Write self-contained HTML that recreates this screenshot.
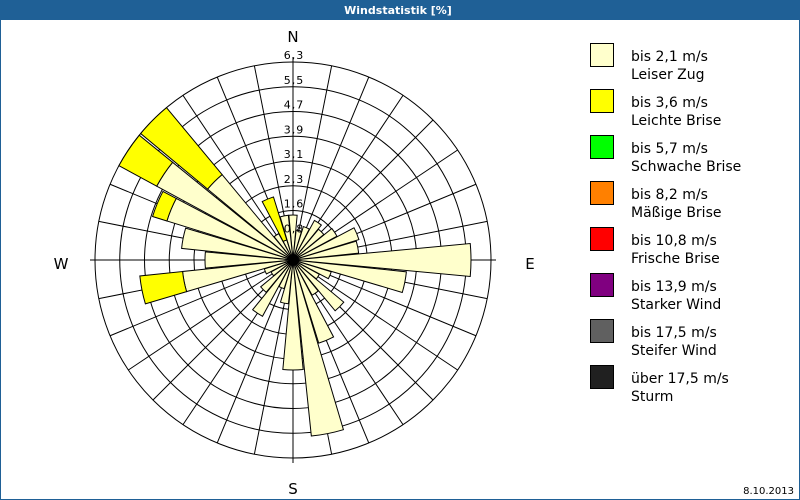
<!DOCTYPE html>
<html><head><meta charset="utf-8"><style>
body{margin:0;background:#fff}
#c{position:relative;width:800px;height:500px;overflow:hidden;font-family:"Liberation Sans","DejaVu Sans",sans-serif}
</style></head><body><div id="c">
<svg id="s" width="800" height="500" xmlns="http://www.w3.org/2000/svg">
<rect x="0" y="0" width="800" height="500" fill="#fff"/>
<rect x="0.5" y="0.5" width="799" height="499" fill="none" stroke="#1f6096"/>
<rect x="0" y="0" width="800" height="20" fill="#1f6096"/>
<text x="398" y="14" fill="#fff" font-size="11" font-weight="bold" text-anchor="middle" font-family="DejaVu Sans, sans-serif">Windstatistik [%]</text>
<g id="g"></g>
<text x="293" y="42" font-size="15" text-anchor="middle" font-family="DejaVu Sans, sans-serif">N</text>
<text x="293" y="494" font-size="15" text-anchor="middle" font-family="DejaVu Sans, sans-serif">S</text>
<text x="61" y="269" font-size="15" text-anchor="middle" font-family="DejaVu Sans, sans-serif">W</text>
<text x="530" y="269" font-size="15" text-anchor="middle" font-family="DejaVu Sans, sans-serif">E</text>
<g id="lg" font-size="14" font-family="DejaVu Sans, sans-serif"></g>
<text x="794" y="494" font-size="10" text-anchor="end" font-family="DejaVu Sans, sans-serif">8.10.2013</text>
</svg></div>
<script>
var cx=293,cy=260,R=198,g=document.getElementById('g'),h='';
function pt(a,r){var t=a*Math.PI/180;return [cx+r*Math.sin(t),cy-r*Math.cos(t)];}
for(var i=1;i<=8;i++)h+='<circle cx="'+cx+'" cy="'+cy+'" r="'+(R*i/8)+'" fill="none" stroke="#000" stroke-width="1"/>';
for(var k=0;k<32;k++){var p=pt(k*11.25,R);h+='<line x1="'+cx+'" y1="'+cy+'" x2="'+p[0]+'" y2="'+p[1]+'" stroke="#000" stroke-width="1"/>';}
h+='<line x1="'+(cx-R-5)+'" y1="'+cy+'" x2="'+(cx+R+5)+'" y2="'+cy+'" stroke="#000"/>';
h+='<line x1="'+cx+'" y1="'+(cy-R-5)+'" x2="'+cx+'" y2="'+(cy+R+5)+'" stroke="#000"/>';
var d=[[45],[30],[35],[45],[40],[50],[69],[66],[178],[114],[40],[30],[66],[40],[87],[177],[110],[44],[30],[64],[42],[25],[30],[111,154],[88],[112],[132,147],[155,198],[111,198],[30],[21,66],[45]];
function wedge(a,r0,r1,col){var w=5.3,p1=pt(a-w,r0),p2=pt(a-w,r1),p3=pt(a+w,r1),p4=pt(a+w,r0);
return '<path d="M'+p1+' L'+p2+' A'+r1+' '+r1+' 0 0 1 '+p3+' L'+p4+(r0>0?' A'+r0+' '+r0+' 0 0 0 '+p1:'')+' Z" fill="'+col+'" stroke="#000" stroke-width="1"/>';}
for(var k=0;k<32;k++){var a=k*11.25,b=d[k];h+=wedge(a,0,b[0],'#ffffcc');if(b[1])h+=wedge(a,b[0],b[1],'#ffff00');}
h+='<circle cx="'+cx+'" cy="'+cy+'" r="4" fill="#000"/>';
var lab=['0,8','1,6','2,3','3,1','3,9','4,7','5,5','6,3'];
for(var i=0;i<8;i++){h+='<text x="'+(cx+1)+'" y="'+(cy-R*(i+1)/8-3)+'" font-size="11" text-anchor="middle" font-family="DejaVu Sans, sans-serif" letter-spacing="1">'+lab[i]+'</text>';}
g.innerHTML=h;
var L=[['#ffffcc','bis 2,1 m/s','Leiser Zug'],['#ffff00','bis 3,6 m/s','Leichte Brise'],['#00ff00','bis 5,7 m/s','Schwache Brise'],['#ff8000','bis 8,2 m/s','Mäßige Brise'],['#ff0000','bis 10,8 m/s','Frische Brise'],['#800080','bis 13,9 m/s','Starker Wind'],['#606060','bis 17,5 m/s','Steifer Wind'],['#202020','über 17,5 m/s','Sturm']],s='';
for(var i=0;i<8;i++){var y=43+i*46;s+='<rect x="590.5" y="'+(y+0.5)+'" width="23" height="23" fill="'+L[i][0]+'" stroke="#000"/>';
s+='<text x="631" y="'+(y+18)+'">'+L[i][1]+'</text><text x="631" y="'+(y+36)+'">'+L[i][2]+'</text>';}
document.getElementById('lg').innerHTML=s;
</script></body></html>
